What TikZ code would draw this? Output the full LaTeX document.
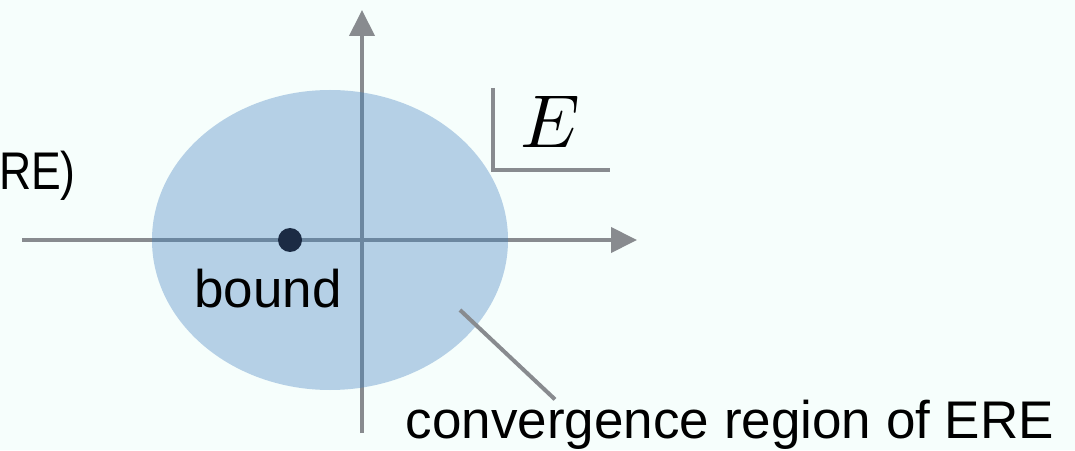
\documentclass[tikz,border=0pt]{standalone}
\usepackage{fontspec}
\setmainfont{Liberation Sans}
\usetikzlibrary{arrows.meta}
\definecolor{fondo}{RGB}{246,254,252}
\definecolor{region}{RGB}{181,208,230}
\definecolor{eje}{RGB}{136,139,143}
\definecolor{ejeint}{RGB}{108,135,160}
\definecolor{punto}{RGB}{27,43,68}
\begin{document}
\begin{tikzpicture}[x=1pt,y=1pt,every node/.style={font=\fontsize{53}{64}\selectfont,inner sep=0pt},eje/.style={line width=4pt,draw=eje},flecha/.style={-{Triangle[length=26pt,width=25pt]}}]
\fill[fondo] (0,0) rectangle (1075,450);
\useasboundingbox (0,0) rectangle (1075,450);
\fill[region] (330,210) ellipse [x radius=178,y radius=150];
\coordinate (xi) at (22,210);\coordinate (xf) at (637,210);
\coordinate (yi) at (362,17);\coordinate (yf) at (362,440);
\draw[eje,flecha] (xi)--(xf);\draw[eje,flecha] (yi)--(yf);
\begin{scope}
\clip (330,210) ellipse [x radius=178,y radius=150];
\draw[eje,draw=ejeint] (xi)--(xf);\draw[eje,draw=ejeint] (yi)--(yf);
\end{scope}
\fill[punto] (290,210) circle [radius=12];
\node[anchor=base] (b) at (268,143) {bound};
\node[anchor=base east] (t) at (76,260) {\scalebox{0.84}[1]{RE)}};
\node[anchor=base,font=\normalsize] (e) at (550,302) {\scalebox{7.5}{$E$}};
\coordinate (c1) at (493,362);\coordinate (c2) at (493,280);\coordinate (c3) at (610,280);
\draw[eje] (c1)--(c2)--(c3);
\node[anchor=base] (r) at (730,12) {convergence region of ERE};
\coordinate (p) at (460,140);
\draw[eje] (p)--(r.north west -| 555,48);
\end{tikzpicture}
\end{document}
